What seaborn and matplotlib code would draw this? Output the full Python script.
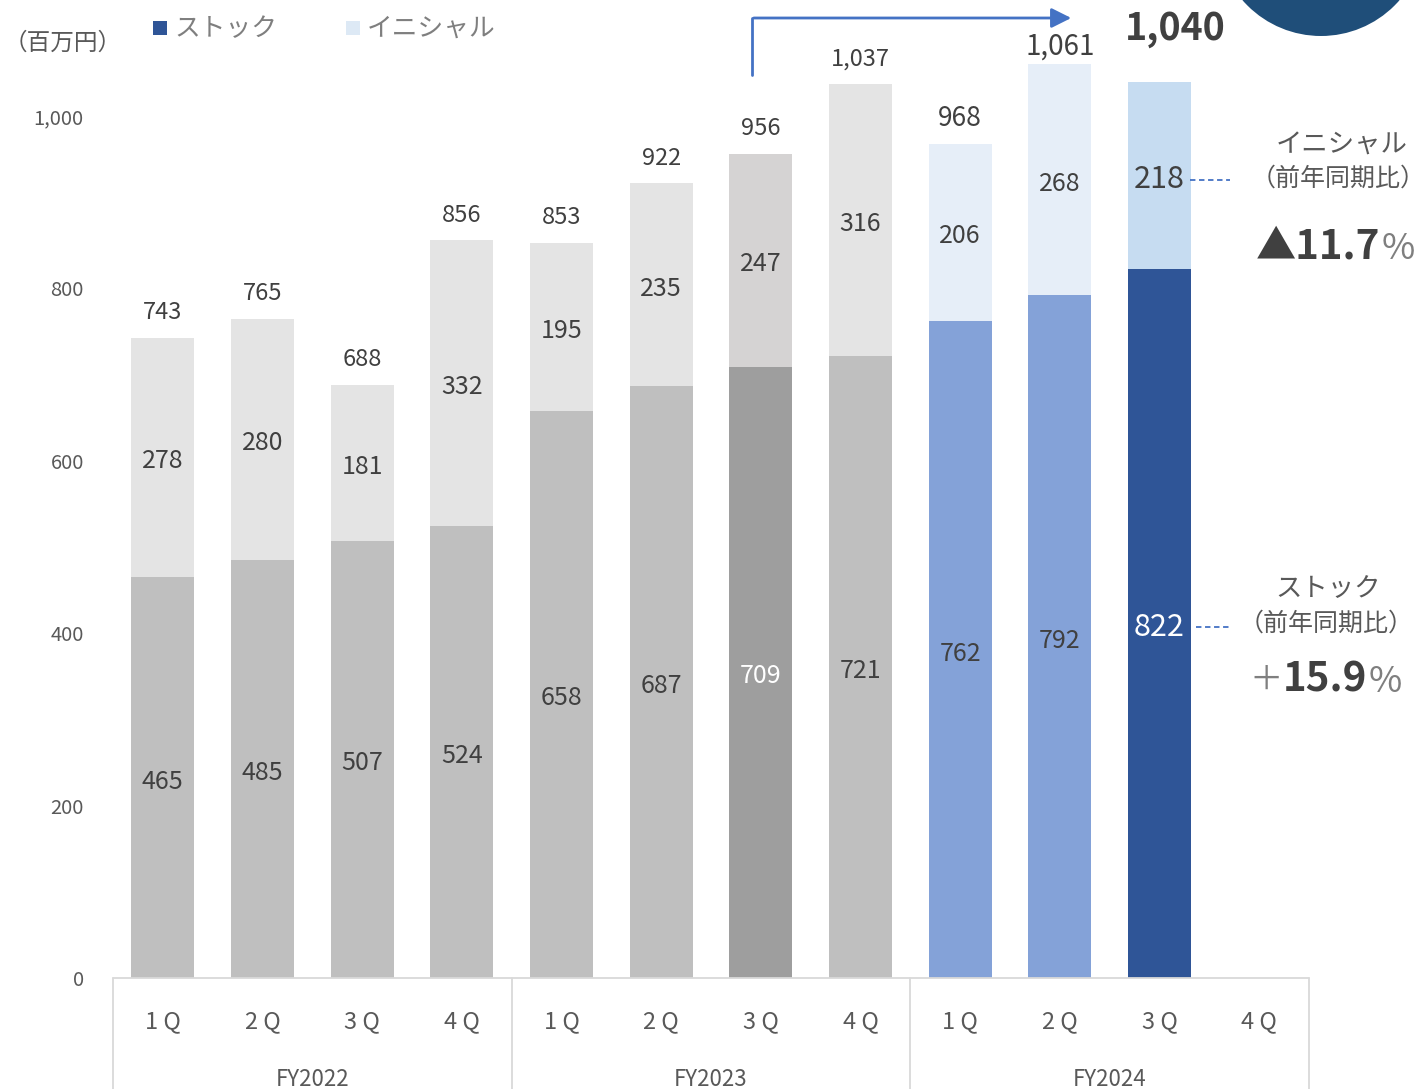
import matplotlib
matplotlib.use("Agg")
import matplotlib.pyplot as plt
import seaborn as sns
import pandas as pd
from matplotlib.patches import Ellipse, Rectangle, FancyArrowPatch
from matplotlib.lines import Line2D

# ---------------- data ----------------
fiscal_years = ["FY2022", "FY2023", "FY2024"]
quarters = ["1Q", "2Q", "3Q", "4Q"]
stock = [465, 485, 507, 524, 658, 687, 709, 721, 762, 792, 822]
initial = [278, 280, 181, 332, 195, 235, 247, 316, 206, 268, 218]
totals = [743, 765, 688, 856, 853, 922, 956, 1037, 968, 1061, 1040]
y_ticks = [0, 200, 400, 600, 800, 1000]
stock_colors = ["#BFBFBF"] * 6 + ["#9E9E9E", "#BFBFBF", "#84A2D8", "#84A2D8", "#2F5597"]
initial_colors = ["#E4E4E4"] * 6 + ["#D5D3D3", "#E4E4E4", "#E6EEF8", "#E6EEF8", "#C6DCF1"]
legend_labels = ["ストック", "イニシャル"]
legend_colors = ["#2F5597", "#DDE9F5"]
yoy_initial = "▲11.7"
yoy_stock = "15.9"

cats = [f"{fy} {q}" for fy in fiscal_years for q in quarters]
df = pd.DataFrame({
    "key": cats[:len(stock)],
    "stock": stock,
    "initial": initial,
})
df["total"] = df["stock"] + df["initial"]

# ---------------- style ----------------
sns.set_theme(style="white")
plt.rcParams["font.family"] = ["Noto Sans CJK JP", "DejaVu Sans"]

W, H = 1427, 1089
fig = plt.figure(figsize=(W / 100, H / 100), dpi=100)
PX_PER_UNIT = 0.862
ax = fig.add_axes([113 / W, 1 - 978 / H, 1196 / W, 978 / H])


def fx(x):
    return x / W


def fy(y):
    return 1 - y / H


sns.barplot(data=df, x="key", y="total", hue="key", order=cats,
            palette=dict(zip(df["key"], initial_colors)), width=0.63,
            saturation=1, legend=False, ax=ax, linewidth=0)
sns.barplot(data=df, x="key", y="stock", hue="key", order=cats,
            palette=dict(zip(df["key"], stock_colors)), width=0.63,
            saturation=1, legend=False, ax=ax, linewidth=0)

ax.set_xlim(-0.5, len(cats) - 0.5)
ax.set_ylim(0, 978 / PX_PER_UNIT)
for s in ax.spines.values():
    s.set_visible(False)
ax.set_xlabel("")
ax.set_ylabel("")
ax.set_xticks([])
ax.set_yticks(y_ticks)
ax.set_yticklabels([f"{v:,}" for v in y_ticks], fontsize=14.5, color="#595959")
ax.tick_params(axis="y", length=0, pad=21)
ax.grid(False)

txt = "#404040"
dy = -4 / PX_PER_UNIT  # small visual centering shift
# segment labels
for i, row in df.iterrows():
    s, it, tot = row["stock"], row["initial"], row["total"]
    big = (i == 10)
    sc = "white" if i in (6, 10) else txt
    ax.text(i, s / 2 + dy, f"{s}", ha="center", va="center",
            fontsize=22 if big else 18, color=sc)
    ax.text(i, s + it / 2 + dy, f"{it}", ha="center", va="center",
            fontsize=22 if big else 18, color=txt)
    if i == 10:
        ax.annotate(f"{totals[i]:,}", (i, tot), xytext=(11, 38),
                    textcoords="offset points", ha="center", va="center",
                    fontsize=27, fontweight="bold", color=txt,
                    annotation_clip=False)
    else:
        fs = {8: 19, 9: 20}.get(i, 17)
        off = 13 if i == 9 else 18
        ax.annotate(f"{totals[i]:,}", (i, tot), xytext=(0, off),
                    textcoords="offset points", ha="center", va="center",
                    fontsize=fs, color=txt, annotation_clip=False)

# category axis (two levels)
line_c = "#D9D9D9"
ax.add_line(Line2D([-0.5, len(cats) - 0.5], [0, 0], color=line_c, lw=1.3, clip_on=False))
ybot = -(1089 - 978) / PX_PER_UNIT
for b in [-0.5, 3.5, 7.5, 11.5]:
    ax.add_line(Line2D([b, b], [0, ybot], color=line_c, lw=1.3, clip_on=False))
yq = -(1022 - 978) / PX_PER_UNIT
yf = -(1079 - 978) / PX_PER_UNIT
for i, c in enumerate(cats):
    q = c.split(" ")[1]
    ax.text(i, yq, f"{q[0]} {q[1]}", ha="center", va="center", fontsize=17,
            color="#595959", clip_on=False)
for j, f in enumerate(fiscal_years):
    ax.text(j * 4 + 1.5, yf, f, ha="center", va="center", fontsize=16,
            color="#595959", clip_on=False)

# unit & legend
fig.text(fx(4), fy(43), "（百万円）", ha="left", va="center", fontsize=17, color="#595959")
for (x0, lab, col) in [(153, legend_labels[0], legend_colors[0]),
                       (346, legend_labels[1], legend_colors[1])]:
    fig.patches.append(Rectangle((fx(x0), fy(35)), 14 / W, 14 / H, transform=fig.transFigure,
                                 facecolor=col, edgecolor="none"))
    fig.text(fx(x0 + 21), fy(29), lab, ha="left", va="center", fontsize=18.5, color="#7F7F7F")

# dark circle top right
r = 104
fig.patches.append(Ellipse((fx(1321), fy(-68)), 2 * r / W, 2 * r / H,
                           transform=fig.transFigure, facecolor="#1F4E79",
                           edgecolor="none"))

# arrow
blue = "#4472C4"
fig.add_artist(Line2D([fx(752), fx(752)], [fy(75), fy(18)], color=blue, lw=2,
                      transform=fig.transFigure))
fig.add_artist(FancyArrowPatch((fx(751), fy(18)), (fx(1074), fy(18)),
                               transform=fig.transFigure, color=blue, lw=2,
                               arrowstyle="-|>,head_length=12,head_width=6",
                               mutation_scale=1))

# dashed leaders
fig.add_artist(Line2D([fx(1190), fx(1230)], [fy(180), fy(180)], color=blue, lw=1.3,
                      ls=(0, (3, 2)), transform=fig.transFigure))
fig.add_artist(Line2D([fx(1196), fx(1230)], [fy(627), fy(627)], color=blue, lw=1.3,
                      ls=(0, (3, 2)), transform=fig.transFigure))

# right side annotations
gray = "#595959"
fig.text(fx(1342), fy(145), "イニシャル", ha="center", va="center", fontsize=19, color=gray)
fig.text(fx(1338), fy(179), "（前年同期比）", ha="center", va="center", fontsize=18, color=gray)
fig.text(fx(1380), fy(247), yoy_initial, ha="right", va="center", fontsize=29,
         fontweight="bold", color=txt)
fig.text(fx(1382), fy(249), "%", ha="left", va="center", fontsize=26, color="#7F7F7F")

fig.text(fx(1328), fy(589), "ストック", ha="center", va="center", fontsize=19, color=gray)
fig.text(fx(1326), fy(624), "（前年同期比）", ha="center", va="center", fontsize=18, color=gray)
fig.text(fx(1283), fy(680), "＋", ha="right", va="center", fontsize=24, color="#7F7F7F")
fig.text(fx(1367), fy(680), yoy_stock, ha="right", va="center", fontsize=29,
         fontweight="bold", color=txt)
fig.text(fx(1369), fy(682), "%", ha="left", va="center", fontsize=26, color="#7F7F7F")

fig.savefig("out.png", dpi=100)
